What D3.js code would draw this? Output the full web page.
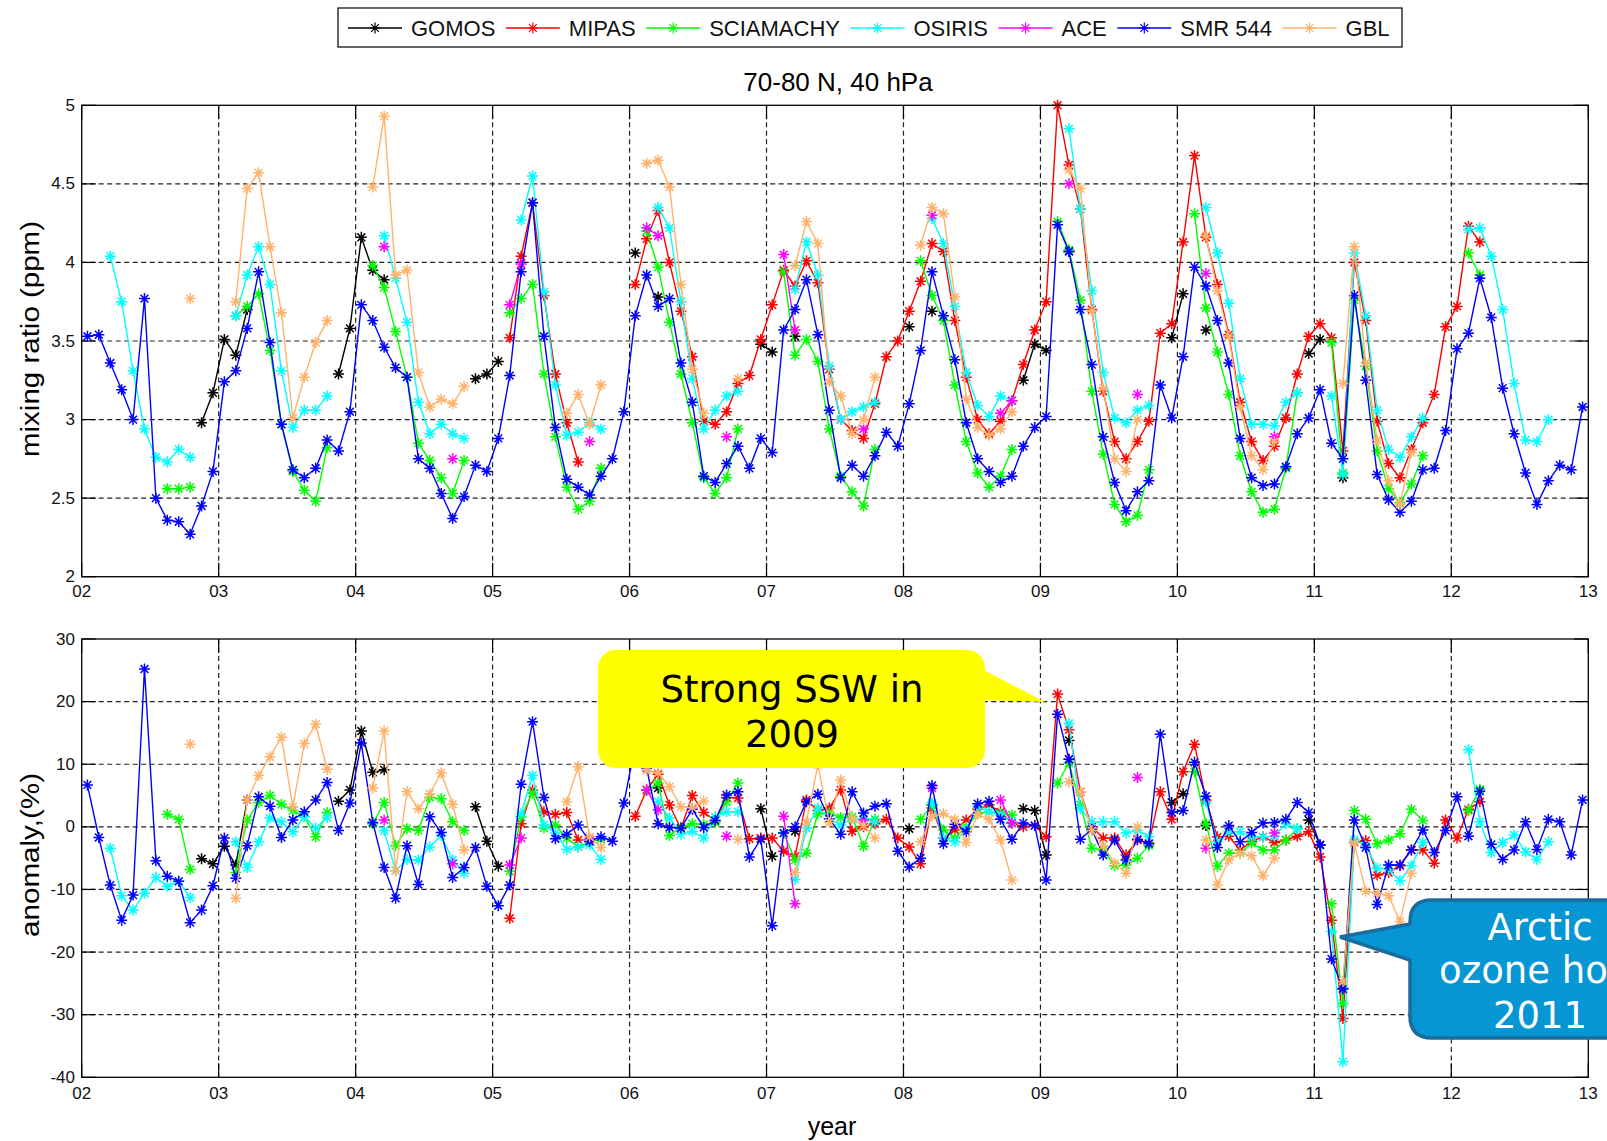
<!DOCTYPE html>
<html><head><meta charset="utf-8">
<script src="https://cdn.jsdelivr.net/npm/d3@7"></script>
<style>body{margin:0;background:#fff}svg{display:block}</style>
</head><body>
<svg id="c" width="1607" height="1141"></svg>
<script>
const _ = null;
const N12 = [_,_,_,_,_,_,_,_,_,_,_,_];

const yearTicks = [2002,2003,2004,2005,2006,2007,2008,2009,2010,2011,2012,2013];
const yearLabels = ["02","03","04","05","06","07","08","09","10","11","12","13"];
const topTicks = [2,2.5,3,3.5,4,4.5,5];
const topTickLabels = ["2","2.5","3","3.5","4","4.5","5"];
const botTicks = [-40,-30,-20,-10,0,10,20,30];
const botTickLabels = ["-40","-30","-20","-10","0","10","20","30"];

const seriesNames = ["GOMOS","MIPAS","SCIAMACHY","OSIRIS","ACE","SMR 544","GBL"];
const seriesColors = ["#000000","#ff0000","#00ff00","#00ffff","#ff00ff","#0000ff","#ffb26b"];

// ---- top panel: mixing ratio (ppm), monthly Jan 2002 .. Dec 2012 ----
const gomosTop = [
_,_,_,_,_,_,_,_,_,_,2.98,3.17,
3.51,3.41,3.70,_,_,_,_,_,_,_,3.29,3.58,
4.16,3.95,3.89,_,_,_,_,_,_,_,3.26,3.29,
3.37,_,_,_,_,_,_,_,_,_,_,_,
4.06,_,3.78,_,_,_,_,_,_,_,_,3.48,
3.43,_,3.53,_,_,_,_,_,_,_,_,_,
3.59,_,3.69,_,_,_,_,_,_,_,3.25,3.48,
3.44,_,4.07,_,_,_,_,_,_,_,_,3.52,
3.80,_,3.57,_,_,_,_,_,_,_,_,3.42,
3.51,_,2.63,_,_,_,_,_,_,_,_,_,
...N12];
const mipasTop = [
...N12, ...N12, ...N12,
_,3.52,4.04,4.38,3.79,3.29,2.98,2.73,_,_,_,_,
3.86,4.15,4.33,4.00,3.69,3.40,2.99,2.97,3.05,3.23,3.28,3.51,
3.73,3.95,3.85,4.01,3.87,3.32,3.00,2.93,2.88,3.10,3.40,3.50,
3.69,3.88,4.12,4.07,3.63,3.27,3.00,2.91,2.99,3.12,3.35,3.57,
3.75,5.00,4.62,4.34,3.70,3.18,2.86,2.75,2.86,2.99,3.55,3.61,
4.13,4.68,4.16,3.86,3.54,3.11,2.86,2.74,2.83,3.01,3.29,3.53,
3.61,3.52,2.80,4.00,3.63,2.99,2.72,2.63,2.81,2.98,3.16,3.59,
3.72,4.23,4.13,_,_,_,_,_,_,_,_,_];
const sciaTop = [
_,_,_,_,_,_,_,2.56,2.56,2.57,_,_,
_,3.66,3.72,3.80,3.44,2.97,2.67,2.55,2.48,2.82,_,_,
_,3.98,3.84,3.56,3.27,2.85,2.74,2.63,2.53,2.74,_,_,
_,3.68,3.77,3.86,3.29,2.89,2.57,2.43,2.48,2.69,_,_,
_,4.20,3.97,3.62,3.29,2.98,2.63,2.53,2.63,2.94,_,_,
_,3.94,3.41,3.51,3.37,2.94,2.64,2.54,2.45,2.81,_,_,
_,4.01,3.79,3.63,3.22,2.86,2.66,2.57,2.64,2.81,_,_,
_,4.26,4.08,3.76,3.18,2.78,2.46,2.35,2.39,2.68,_,_,
_,4.31,3.71,3.43,3.16,2.77,2.54,2.41,2.43,2.69,3.17,_,
_,3.49,2.66,3.76,3.34,2.80,2.56,2.47,2.59,2.77,_,_,
_,4.06,3.92,_,_,_,_,_,_,_,_,_];
const osirisTop = [
_,_,4.04,3.75,3.31,2.94,2.76,2.73,2.81,2.76,_,_,
_,3.66,3.92,4.10,3.86,3.31,2.95,3.06,3.06,3.15,_,_,
_,_,4.17,3.90,3.62,3.11,2.91,2.97,2.91,2.88,_,_,
_,_,4.27,4.55,3.81,3.22,2.90,2.92,2.98,2.94,_,_,
_,_,4.35,4.22,3.75,3.26,2.94,3.06,3.15,3.18,_,_,
_,_,3.83,4.13,3.92,3.34,3.00,3.05,3.08,3.11,_,_,
_,_,4.28,4.12,3.72,3.30,3.09,3.02,3.15,3.12,_,_,
_,_,4.85,4.34,3.82,3.30,3.01,2.98,3.06,3.09,_,_,
_,_,4.35,4.06,3.74,3.26,2.97,2.97,2.96,3.11,3.17,_,
_,3.15,2.65,4.06,3.66,3.06,2.81,2.76,2.89,3.01,_,_,
_,4.21,4.22,4.04,3.70,3.23,2.87,2.86,3.00,_,_,_];
const aceTop = [
...N12, ...N12,
_,_,4.10,_,_,_,_,_,2.75,_,_,_,
_,3.73,3.99,_,_,_,_,_,2.86,_,_,_,
_,4.22,4.17,_,_,_,_,_,2.89,_,_,_,
_,4.05,3.57,_,_,_,_,_,2.94,_,_,_,
_,_,4.30,_,_,_,_,_,3.04,3.12,_,_,
_,_,4.50,_,_,_,_,_,3.16,_,_,_,
_,_,3.93,_,_,_,_,_,2.89,_,_,_,
...N12, ...N12];
const smrTop = [
3.53,3.54,3.36,3.19,3.00,3.77,2.50,2.36,2.35,2.27,2.45,2.67,
3.24,3.31,3.58,3.94,3.49,2.97,2.68,2.63,2.69,2.87,2.80,3.05,
3.73,3.63,3.46,3.33,3.27,2.75,2.69,2.53,2.37,2.51,2.71,2.67,
2.88,3.28,3.94,4.38,3.53,2.95,2.62,2.57,2.52,2.64,2.75,3.05,
3.66,3.92,3.72,3.77,3.36,3.11,2.64,2.60,2.72,2.83,2.69,2.88,
2.79,3.57,3.70,3.89,3.54,3.06,2.63,2.71,2.64,2.77,2.92,2.83,
3.10,3.44,3.94,3.66,3.38,2.98,2.75,2.67,2.60,2.64,2.83,2.95,
3.02,4.24,4.07,3.70,3.35,2.89,2.60,2.42,2.54,2.61,3.22,3.01,
3.40,3.97,3.85,3.63,3.36,2.88,2.63,2.58,2.59,2.70,2.91,3.01,
3.19,2.85,2.75,3.79,3.25,2.65,2.49,2.41,2.48,2.68,2.69,2.93,
3.45,3.55,3.90,3.65,3.20,2.91,2.66,2.46,2.61,2.71,2.68,3.08];
const gblTop = [
_,_,_,_,_,_,_,_,_,3.77,_,_,
_,3.75,4.47,4.57,4.10,3.68,3.01,3.27,3.49,3.63,_,_,
_,4.48,4.93,3.92,3.95,3.30,3.08,3.13,3.10,3.21,_,_,
_,_,_,_,_,_,3.04,3.16,2.97,3.22,_,_,
_,4.63,4.65,4.48,3.86,3.32,3.04,_,_,3.26,_,_,
_,_,3.98,4.26,4.12,3.24,3.15,2.91,3.00,3.27,_,_,
_,4.11,4.35,4.31,3.78,3.13,2.95,2.90,2.94,3.05,_,_,
_,_,4.59,4.47,3.69,3.20,2.75,2.67,3.00,_,_,_,
_,_,4.17,3.82,3.53,3.08,2.77,2.68,2.86,_,_,_,
_,_,3.23,4.10,3.36,2.87,2.61,2.46,2.79,_,_,_,
...N12];

// ---- bottom panel: anomaly (%) ----
const gomosBot = [
_,_,_,_,_,_,_,_,_,_,-5.1,-5.9,
-3.1,-6.1,4.3,_,_,_,_,_,_,_,4.1,5.9,
15.3,8.7,9.1,_,_,_,_,_,_,_,3.2,-2.3,
-6.3,_,_,_,_,_,_,_,_,_,_,_,
12.0,_,6.2,_,_,_,_,_,_,_,_,2.9,
-4.7,_,-0.7,_,_,_,_,_,_,_,_,_,
-0.3,_,3.5,_,_,_,_,_,_,_,2.9,2.6,
-4.5,_,13.8,_,_,_,_,_,_,_,_,3.9,
5.3,_,0.2,_,_,_,_,_,_,_,_,1.1,
-2.9,_,-25.8,_,_,_,_,_,_,_,_,_,
...N12];
const mipasBot = [
...N12, ...N12, ...N12,
_,-14.6,0.5,5.9,2.4,2.0,2.3,-2.1,_,_,_,_,
1.7,5.9,8.4,3.5,-0.3,5.0,2.3,1.0,4.7,4.6,-1.9,-1.8,
-1.8,-3.9,-4.7,4.3,2.6,3.0,5.9,-0.7,0.0,0.5,1.2,-1.8,
-3.2,-5.9,3.0,-1.8,-0.5,1.1,2.8,3.5,2.4,0.6,0.0,0.2,
-1.6,21.2,15.5,5.6,0.0,-1.8,-1.8,-4.5,-2.1,-2.6,5.6,1.2,
8.8,13.2,4.3,-1.6,-1.5,-3.7,-2.3,-1.6,-2.5,-2.1,-1.5,-0.8,
-4.8,-14.9,-30.6,-2.5,-2.2,-7.7,-7.3,-6.2,-3.7,-3.7,-5.8,1.1,
-1.8,2.8,4.0,_,_,_,_,_,_,_,_,_];
const sciaBot = [
_,_,_,_,_,_,_,2.0,1.2,-6.8,_,_,
_,-7.3,1.1,3.9,5.0,3.6,2.6,1.6,-1.6,2.3,_,_,
_,0.5,3.9,-3.0,-0.3,-0.6,4.7,4.5,0.8,-0.6,_,_,
_,-7.1,1.6,5.4,-0.2,0.3,-1.8,-3.2,-2.4,-2.0,_,_,
_,5.8,7.0,-1.4,-0.1,0.5,0.4,0.7,4.0,7.0,_,_,
_,-1.0,-5.3,-4.2,2.1,2.2,1.5,1.6,-3.1,1.2,_,_,
_,1.2,3.5,-0.5,-1.8,0.0,2.1,2.4,2.1,1.9,_,_,
_,7.0,10.2,3.5,-3.4,-3.7,-6.2,-6.1,-5.0,-3.0,_,_,
_,8.8,0.5,-6.3,-4.2,-4.2,-2.6,-3.7,-3.7,-2.1,-0.3,_,
_,-12.3,-28.2,2.6,1.2,-2.7,-2.1,-1.1,2.8,1.0,_,_,
_,2.6,6.0,_,_,_,_,_,_,_,_,_];
const osirisBot = [
_,_,-3.4,-11.0,-13.3,-10.6,-8.1,-9.5,-8.7,-11.3,_,_,
_,-2.4,-6.5,-2.4,1.4,0.8,-0.8,1.6,-0.2,1.5,_,_,
_,_,-0.6,-7.0,-5.2,-5.3,-3.2,-1.4,-5.3,-7.4,_,_,
_,_,2.1,8.2,0.3,-1.0,-3.6,-3.2,-2.9,-5.2,_,_,
_,_,4.0,1.4,-1.2,-0.7,-1.8,1.6,2.4,2.4,_,_,
_,_,-8.4,-0.2,3.0,1.3,0.3,1.3,1.3,0.8,_,_,
_,_,3.8,-1.8,-2.4,-0.3,3.2,2.4,1.9,0.8,_,_,
_,_,16.5,2.9,0.8,0.8,0.8,-1.0,-0.5,-1.6,_,_,
_,_,4.0,-2.4,-0.8,-0.8,-1.6,-1.6,-1.5,0.5,-0.3,_,
_,-16.7,-37.5,-2.1,-3.0,-6.6,-6.8,-8.6,-6.2,-2.5,_,_,
_,12.3,0.8,-4.1,-2.5,-1.3,-4.0,-5.2,-2.4,_,_,_];
const aceBot = [
...N12, ...N12,
_,_,1.1,_,_,_,_,_,-5.9,_,_,_,
_,-6.1,-1.8,_,_,_,_,_,-2.0,_,_,_,
_,5.9,2.7,_,_,_,_,_,-1.5,_,_,_,
_,1.7,-12.3,_,_,_,_,_,1.1,_,_,_,
_,_,6.2,_,_,_,_,_,4.3,0.6,_,_,
_,_,10.8,_,_,_,_,_,7.9,_,_,_,
_,_,-3.4,_,_,_,_,_,-1.0,_,_,_,
...N12, ...N12];
const smrBot = [
6.7,-1.7,-9.3,-14.9,-10.9,25.2,-5.4,-7.9,-8.7,-15.3,-13.3,-9.4,
-1.8,-8.2,-3.0,4.8,3.3,-1.7,1.1,2.4,4.3,7.1,-0.6,3.8,
13.4,0.7,-6.5,-11.4,-3.0,-9.2,1.6,-0.9,-8.1,-6.5,-3.3,-9.5,
-12.6,-9.3,6.8,16.8,4.7,-1.9,-1.2,0.3,-2.3,-1.6,-2.3,3.8,
13.0,9.4,0.5,-0.1,-0.2,2.8,-0.1,1.0,5.1,5.6,-4.8,-2.0,
-15.8,-1.0,0.0,4.0,5.2,1.3,-1.2,5.6,2.2,3.3,3.7,-3.9,
-6.4,-5.0,6.6,-2.7,0.4,-0.8,3.7,4.1,1.2,-2.0,0.6,0.2,
-8.5,18.0,10.8,-2.0,-0.4,-4.5,-2.1,-5.3,-2.0,-2.7,14.8,2.3,
2.6,10.3,4.9,-3.3,0.2,-2.4,-0.9,0.6,0.7,1.2,3.9,2.3,
-2.9,-21.1,-25.9,1.1,-3.3,-12.4,-6.1,-6.1,-3.7,-0.5,-4.1,-0.6,
4.8,-1.5,5.7,-2.8,-5.2,-3.7,0.8,-3.6,1.2,0.8,-4.5,4.3];
const gblBot = [
_,_,_,_,_,_,_,_,_,13.2,_,_,
_,-11.4,4.3,8.2,11.2,14.3,3.2,13.3,16.4,9.2,_,_,
_,6.2,15.3,-7.0,5.6,2.9,5.3,8.6,3.6,-3.7,_,_,
_,_,_,_,_,_,4.0,9.6,-1.6,-3.3,_,_,
_,9.0,8.6,6.4,3.2,3.1,4.1,_,_,-2.0,_,_,
_,_,-7.3,0.8,9.9,0.7,7.5,1.3,0.2,-1.8,_,_,
_,-2.4,1.7,2.1,1.2,-2.5,2.0,1.2,-2.1,-8.5,_,_,
_,_,7.2,5.6,-0.6,-3.0,-5.8,-7.4,0.0,_,_,_,
_,_,-2.1,-9.3,-5.3,-4.2,-4.6,-7.8,-5.0,_,_,_,
_,_,-24.7,-2.6,-10.3,-10.6,-11.0,-15.1,-7.4,_,_,_,
...N12];

const topSeries = [gomosTop, mipasTop, sciaTop, osirisTop, aceTop, smrTop, gblTop];
const botSeries = [gomosBot, mipasBot, sciaBot, osirisBot, aceBot, smrBot, gblBot];

// ---------------- drawing ----------------
const svg = d3.select("#c");
svg.append("rect").attr("width",1607).attr("height",1141).attr("fill","#fff");
const FONT = "'Liberation Sans', Arial, Helvetica, sans-serif";

const x = d3.scaleLinear().domain([2002, 2013]).range([81.7, 1588.3]);
const monthX = i => x(2002 + (i + 0.5) / 12);
const yTop = d3.scaleLinear().domain([2, 5]).range([576.7, 105.3]);
const yBot = d3.scaleLinear().domain([-40, 30]).range([1077.3, 639]);

const star = "M-5.5,0H5.5M0,-5.5V5.5M-3.9,-3.9L3.9,3.9M-3.9,3.9L3.9,-3.9";

function panel(y, ticks, tickLabels, series, xLabelY) {
  const g = svg.append("g");
  const [yb, yt] = y.range();
  const xl = x.range()[0], xr = x.range()[1];
  // grid
  yearTicks.slice(1, -1).forEach(t => {
    g.append("line").attr("x1", x(t)).attr("x2", x(t)).attr("y1", yt).attr("y2", yb)
      .attr("stroke", "#222").attr("stroke-width", 1.2).attr("stroke-dasharray", "5,3.5");
  });
  ticks.slice(1, -1).forEach(t => {
    g.append("line").attr("x1", xl).attr("x2", xr).attr("y1", y(t)).attr("y2", y(t))
      .attr("stroke", "#222").attr("stroke-width", 1.2).attr("stroke-dasharray", "5,3.5");
  });
  // tick marks
  const TL = 14;
  yearTicks.forEach(t => {
    g.append("line").attr("x1", x(t)).attr("x2", x(t)).attr("y1", yb).attr("y2", yb - TL).attr("stroke", "#000").attr("stroke-width", 1.2);
    g.append("line").attr("x1", x(t)).attr("x2", x(t)).attr("y1", yt).attr("y2", yt + TL).attr("stroke", "#000").attr("stroke-width", 1.2);
  });
  ticks.forEach(t => {
    g.append("line").attr("x1", xl).attr("x2", xl + TL).attr("y1", y(t)).attr("y2", y(t)).attr("stroke", "#000").attr("stroke-width", 1.2);
    g.append("line").attr("x1", xr).attr("x2", xr - TL).attr("y1", y(t)).attr("y2", y(t)).attr("stroke", "#000").attr("stroke-width", 1.2);
  });
  // tick labels
  yearTicks.forEach((t, k) => {
    g.append("text").attr("x", x(t)).attr("y", xLabelY).attr("text-anchor", "middle")
      .attr("dominant-baseline", "central").attr("font-family", FONT).attr("font-size", 17)
      .attr("fill", "#111").text(yearLabels[k]);
  });
  ticks.forEach((t, k) => {
    g.append("text").attr("x", 75).attr("y", y(t)).attr("text-anchor", "end")
      .attr("dominant-baseline", "central").attr("font-family", FONT).attr("font-size", 17)
      .attr("fill", "#111").text(tickLabels[k]);
  });
  // series
  const line = d3.line().defined(d => d.v !== null).x(d => monthX(d.i)).y(d => y(d.v));
  series.forEach((vals, k) => {
    const pts = vals.map((v, i) => ({ i, v }));
    g.append("path").datum(pts).attr("d", line).attr("fill", "none")
      .attr("stroke", seriesColors[k]).attr("stroke-width", 1.4);
    g.selectAll(null).data(pts.filter(d => d.v !== null)).enter().append("path")
      .attr("d", star).attr("transform", d => `translate(${monthX(d.i)},${y(d.v)})`)
      .attr("fill", "none").attr("stroke", seriesColors[k]).attr("stroke-width", 1.5);
  });
  // box
  g.append("rect").attr("x", xl).attr("y", yt).attr("width", xr - xl).attr("height", yb - yt)
    .attr("fill", "none").attr("stroke", "#000").attr("stroke-width", 1.3);
}

panel(yTop, topTicks, topTickLabels, topSeries, 591);
panel(yBot, botTicks, botTickLabels, botSeries, 1093);

// axis titles
svg.append("text").attr("x", 838).attr("y", 82).attr("text-anchor", "middle")
  .attr("dominant-baseline", "central").attr("font-family", FONT).attr("font-size", 26)
  .text("70-80 N, 40 hPa");
svg.append("text").attr("transform", "translate(30,339) rotate(-90)").attr("text-anchor", "middle")
  .attr("dominant-baseline", "central").attr("font-family", FONT).attr("font-size", 26)
  .attr("textLength", 236).attr("lengthAdjust", "spacingAndGlyphs")
  .text("mixing ratio (ppm)");
svg.append("text").attr("transform", "translate(30,855) rotate(-90)").attr("text-anchor", "middle")
  .attr("dominant-baseline", "central").attr("font-family", FONT).attr("font-size", 26)
  .attr("textLength", 164).attr("lengthAdjust", "spacingAndGlyphs")
  .text("anomaly,(%)");
svg.append("text").attr("x", 832).attr("y", 1126).attr("text-anchor", "middle")
  .attr("dominant-baseline", "central").attr("font-family", FONT).attr("font-size", 25)
  .text("year");

// legend
const leg = svg.append("g");
leg.append("rect").attr("x", 338).attr("y", 8).attr("width", 1064).attr("height", 39)
  .attr("fill", "#fff").attr("stroke", "#000").attr("stroke-width", 1.2);
let lx = 348;
const ly = 28;
seriesNames.forEach((name, k) => {
  leg.append("line").attr("x1", lx).attr("x2", lx + 54).attr("y1", ly).attr("y2", ly)
    .attr("stroke", seriesColors[k]).attr("stroke-width", 1.6);
  leg.append("path").attr("d", star).attr("transform", `translate(${lx + 27},${ly})`)
    .attr("fill", "none").attr("stroke", seriesColors[k]).attr("stroke-width", 1.2);
  const t = leg.append("text").attr("x", lx + 63).attr("y", ly).attr("dominant-baseline", "central")
    .attr("font-family", FONT).attr("font-size", 22).attr("fill", "#111").text(name);
  lx = lx + 63 + t.node().getComputedTextLength() + 10.5;
});

// callouts
const CF = "'DejaVu Sans', Verdana, sans-serif";
const yc = svg.append("g");
yc.append("rect").attr("x", 598).attr("y", 650).attr("width", 387).attr("height", 118)
  .attr("rx", 18).attr("fill", "#ffff00");
yc.append("path").attr("d", "M980,668 L1045,702 L980,700 Z").attr("fill", "#ffff00");
yc.append("text").attr("x", 792).attr("y", 702).attr("text-anchor", "middle")
  .attr("font-family", CF).attr("font-size", 37).attr("fill", "#000").text("Strong SSW in");
yc.append("text").attr("x", 792).attr("y", 747).attr("text-anchor", "middle")
  .attr("font-family", CF).attr("font-size", 37).attr("fill", "#000").text("2009");

const bc = svg.append("g");
bc.append("path")
  .attr("d", "M1432,900 H1700 V1038 H1432 Q1410,1038 1410,1016 V960 L1340,937 L1410,924 V922 Q1410,900 1432,900 Z")
  .attr("fill", "#0596d3").attr("stroke", "#1b6c9c").attr("stroke-width", 3.5);
[["Arctic", 940], ["ozone hole", 983], ["2011", 1028]].forEach(([s, yy]) => {
  bc.append("text").attr("x", 1540).attr("y", yy).attr("text-anchor", "middle")
    .attr("font-family", CF).attr("font-size", 37).attr("fill", "#fff").text(s);
});
</script>
</body></html>
